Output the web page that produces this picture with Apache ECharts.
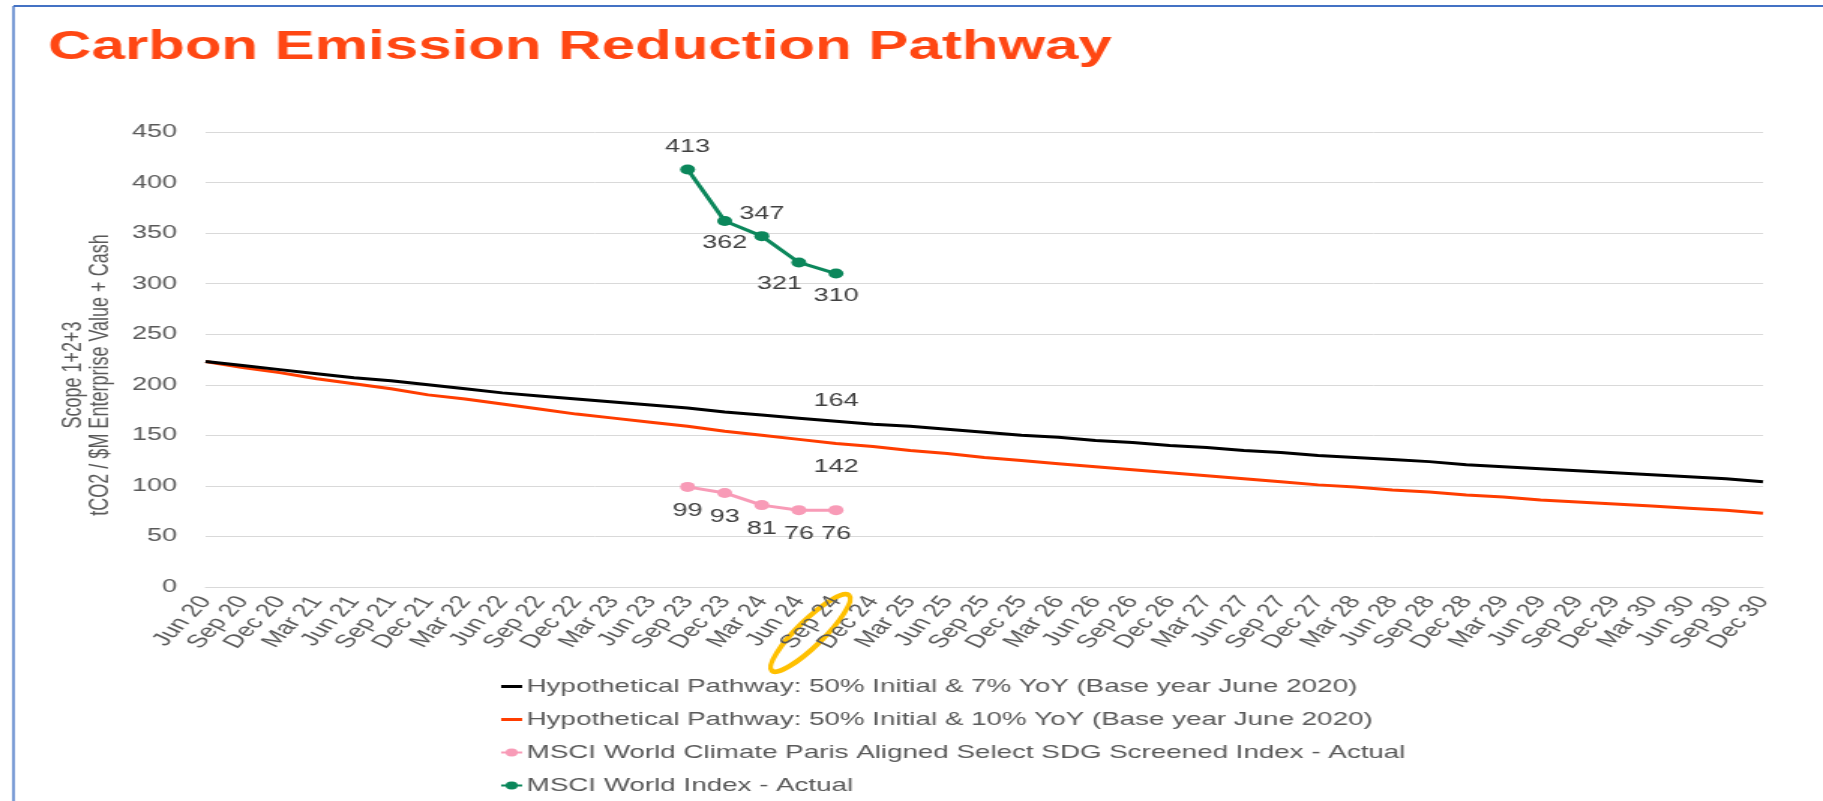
<!DOCTYPE html>
<html>
<head>
<meta charset="utf-8">
<title>Carbon Emission Reduction Pathway</title>
<script src="https://cdn.jsdelivr.net/npm/echarts@6.0.0/dist/echarts.min.js"></script>
<style>
  html, body { margin: 0; padding: 0; background: #fff; overflow: hidden; }
  /* the source picture is stretched sideways, so the chart is drawn narrow and stretched */
  #main { width: 1215px; height: 801px; transform: scaleX(1.5004); transform-origin: 0 0; }
</style>
</head>
<body>
<div id="main"></div>
<script>
const STRETCH = 1.5004;

const quarters = [
  'Jun 20', 'Sep 20', 'Dec 20',
  'Mar 21', 'Jun 21', 'Sep 21', 'Dec 21',
  'Mar 22', 'Jun 22', 'Sep 22', 'Dec 22',
  'Mar 23', 'Jun 23', 'Sep 23', 'Dec 23',
  'Mar 24', 'Jun 24', 'Sep 24', 'Dec 24',
  'Mar 25', 'Jun 25', 'Sep 25', 'Dec 25',
  'Mar 26', 'Jun 26', 'Sep 26', 'Dec 26',
  'Mar 27', 'Jun 27', 'Sep 27', 'Dec 27',
  'Mar 28', 'Jun 28', 'Sep 28', 'Dec 28',
  'Mar 29', 'Jun 29', 'Sep 29', 'Dec 29',
  'Mar 30', 'Jun 30', 'Sep 30', 'Dec 30'
];

// hypothetical pathways
const pathway7 = [223, 219, 215, 211, 207, 204, 200, 196, 192, 189, 186, 183, 180, 177, 173, 170, 167, 164, 161, 159, 156, 153,
  150, 148, 145, 143, 140, 138, 135, 133, 130, 128, 126, 124, 121, 119, 117, 115, 113, 111, 109, 107, 104];
const pathway10 = [223, 217, 212, 206, 201, 196, 190, 186, 181, 176, 171, 167, 163, 159, 154, 150, 146, 142, 139, 135, 132, 128,
  125, 122, 119, 116, 113, 110, 107, 104, 101, 99, 96, 94, 91, 89, 86, 84, 82, 80, 78, 76, 73];

// actual index values
const actualQuarters = ['Sep 23', 'Dec 23', 'Mar 24', 'Jun 24', 'Sep 24'];
const msciWorld = [413, 362, 347, 321, 310];
const parisAligned = [99, 93, 81, 76, 76];

const markedQuarter = 'Sep 24';
const yMin = 0, yMax = 450, yStep = 50;

const names = [
  'Hypothetical Pathway: 50% Initial & 7% YoY (Base year June 2020)',
  'Hypothetical Pathway: 50% Initial & 10% YoY (Base year June 2020)',
  'MSCI World Climate Paris Aligned Select SDG Screened Index - Actual',
  'MSCI World Index - Actual'
];

const FONT = 'Liberation Sans';
const GREY = '#595959';
const LABEL = '#404040';
// plain bar for the pathway legend keys (the tiny end points keep the full icon box)
const LINE_ICON = 'path://M0,0L0.01,0M0,3.5L14,3.5L14,6.5L0,6.5ZM0,10L0.01,10';

const markedIdx = quarters.indexOf(markedQuarter);

// a single value label on a pathway line, at the marked quarter
function pathwayMark(values, position, distance) {
  return {
    symbol: 'circle',
    symbolSize: 1,
    itemStyle: { color: 'transparent' },
    label: { show: true, position: position, distance: distance, color: LABEL, fontSize: 18 },
    data: [{ coord: [markedQuarter, values[markedIdx]], value: values[markedIdx] }]
  };
}

const worldLabelPos = ['top', 'bottom', 'top', 'bottom', 'bottom'];
const worldLabelOffset = [[0, 0], [0, 0], [0, 0], [-13, 0], [0, 0]];

const myChart = echarts.init(document.getElementById('main'));

const option = {
  animation: false,
  backgroundColor: '#fff',
  textStyle: { fontFamily: FONT },
  title: {
    text: 'Carbon Emission Reduction Pathway',
    left: 32,
    top: 28,
    padding: 0,
    textStyle: { color: '#FF4713', fontSize: 40, fontWeight: 'bold', fontFamily: FONT }
  },
  grid: { left: 137, right: 40, top: 132, bottom: 214 },
  legend: {
    orient: 'vertical',
    left: 333,
    top: 677,
    padding: 0,
    itemWidth: 14,
    itemHeight: 10,
    itemGap: 14,
    textStyle: { color: GREY, fontSize: 18.5, lineHeight: 18, fontFamily: FONT, padding: [0, 0, 0, -2] },
    data: [
      { name: names[0], icon: LINE_ICON },
      { name: names[1], icon: LINE_ICON },
      names[2],
      names[3]
    ]
  },
  xAxis: {
    type: 'category',
    boundaryGap: false,
    data: quarters,
    axisTick: { show: false },
    axisLine: { lineStyle: { color: '#D9D9D9', width: 1 } },
    axisLabel: { interval: 0, rotate: 56, margin: 11, color: GREY, fontSize: 18.5 }
  },
  yAxis: {
    type: 'value',
    min: yMin,
    max: yMax,
    interval: yStep,
    axisLine: { show: false },
    axisTick: { show: false },
    axisLabel: { color: GREY, fontSize: 18, margin: 19 },
    splitLine: { lineStyle: { color: '#D9D9D9', width: 1 } }
  },
  series: [
    {
      name: names[0],
      type: 'line',
      symbol: 'none',
      data: pathway7,
      lineStyle: { color: '#000000', width: 3 },
      itemStyle: { color: '#000000' },
      markPoint: pathwayMark(pathway7, 'top', 11),
      z: 3
    },
    {
      name: names[1],
      type: 'line',
      symbol: 'none',
      data: pathway10,
      lineStyle: { color: '#FF3D00', width: 3 },
      itemStyle: { color: '#FF3D00' },
      markPoint: pathwayMark(pathway10, 'bottom', 14),
      z: 2
    },
    {
      name: names[2],
      type: 'line',
      symbol: 'circle',
      symbolSize: 10,
      data: actualQuarters.map((q, i) => [q, parisAligned[i]]),
      lineStyle: { color: '#F89BB7', width: 3 },
      itemStyle: { color: '#F89BB7' },
      label: { show: true, position: 'bottom', distance: 10, color: LABEL, fontSize: 18 },
      z: 4
    },
    {
      name: names[3],
      type: 'line',
      symbol: 'circle',
      symbolSize: 10,
      data: actualQuarters.map((q, i) => ({
        value: [q, msciWorld[i]],
        label: { position: worldLabelPos[i], offset: worldLabelOffset[i] }
      })),
      lineStyle: { color: '#0B875B', width: 3 },
      itemStyle: { color: '#0B875B' },
      label: { show: true, distance: 8, color: LABEL, fontSize: 18 },
      z: 5
    }
  ]
};
myChart.setOption(option);

// decorations: frame, axis title and the yellow ring round the marked quarter
const ringX = myChart.convertToPixel({ xAxisIndex: 0 }, markedQuarter) - 17;
const ringY = myChart.convertToPixel({ yAxisIndex: 0 }, yMin) + 46;

myChart.setOption({
  graphic: [
    { type: 'line', shape: { x1: 9, y1: 6, x2: 1215, y2: 6 }, style: { stroke: '#4472C4', lineWidth: 2 } },
    { type: 'line', shape: { x1: 9, y1: 6, x2: 9, y2: 801 }, style: { stroke: '#4472C4', lineWidth: 1.4 } },
    {
      type: 'text',
      x: 58,
      y: 375,
      rotation: Math.PI / 2,
      style: {
        text: 'Scope 1+2+3\ntCO2 / $M Enterprise Value + Cash',
        fill: GREY,
        font: '18px "' + FONT + '"',
        lineHeight: 18,
        align: 'center',
        verticalAlign: 'middle'
      }
    },
    {
      type: 'group',
      x: ringX,
      y: ringY,
      scaleX: 1 / STRETCH,
      children: [{
        type: 'ellipse',
        rotation: 0.77,
        shape: { cx: 0, cy: 0, rx: 54, ry: 13 },
        style: { fill: 'none', stroke: '#FFC000', lineWidth: 5 }
      }]
    }
  ]
});
</script>
</body>
</html>
